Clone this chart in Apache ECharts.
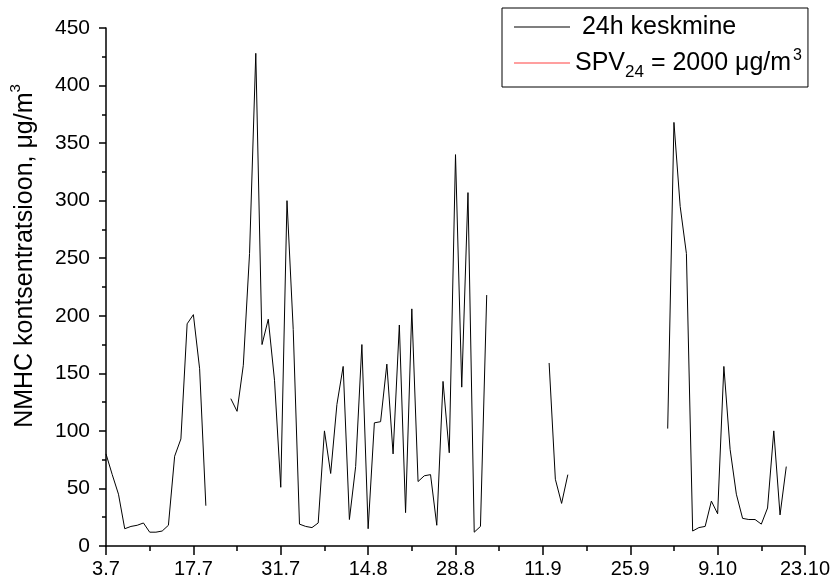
<!DOCTYPE html>
<html>
<head>
<meta charset="utf-8">
<script src="https://cdn.jsdelivr.net/npm/echarts@6/dist/echarts.min.js"></script>
<style>
  html, body { margin: 0; padding: 0; background: #fff; }
  #chart { width: 834px; height: 588px; }
</style>
</head>
<body>
<div id="chart"></div>
<script>
// x-axis labels, one every 14 days starting 3.7
const tickLabels = ['3.7', '17.7', '31.7', '14.8', '28.8', '11.9', '25.9', '9.10', '23.10']
// 24h mean NMHC, one value per day from 3.7 (null = no data)
const dailyMean = [
  80, 62, 45, 15, 17, 18, 20, 12, 12, 13,
  18, 78, 93, 193, 201, 154, 35, null, null, null,
  128, 117, 157, 254, 428, 175, 197, 144, 51, 300,
  188, 19, 17, 16, 20, 100, 63, 123, 156, 23,
  69, 175, 15, 107, 108, 158, 80, 192, 29, 206,
  56, 61, 62, 18, 143, 81, 340, 138, 307, 12,
  17, 218, null, null, null, null, null, null, null, null,
  null, 159, 58, 37, 62, null, null, null, null, null,
  null, null, null, null, null, null, null, null, null, null,
  102, 368, 295, 254, 13, 16, 17, 39, 28, 156,
  84, 45, 24, 23, 23, 19, 33, 100, 27, 69
]
// SPV24 limit, ug/m3
const limitValue = 2000
const lastDay = (tickLabels.length - 1) * 14

const chart = echarts.init(document.getElementById('chart'), null, { renderer: 'canvas' })

const font = 'Liberation Sans, Arial, sans-serif'

chart.setOption({
  animation: false,
  textStyle: { fontFamily: font, color: '#000' },
  grid: { left: 105, right: 29, top: 28, bottom: 42 },
  legend: {
    orient: 'vertical',
    left: 502,
    top: 8,
    padding: [1, 6, 6, 12],
    borderColor: '#000',
    borderWidth: 1,
    icon: 'rect',
    itemWidth: 56,
    itemHeight: 1,
    itemGap: 0,
    textStyle: {
      fontFamily: font,
      fontSize: 25,
      lineHeight: 36,
      color: '#000',
      rich: {
        sub: { fontSize: 17, verticalAlign: 'bottom' },
        sup: { fontSize: 16, verticalAlign: 'top', padding: [3, 0, 0, 2] }
      }
    },
    formatter: name => name === 'limit' ? 'SPV{sub|24} = 2000 μg/m{sup|3}' : ' 24h keskmine',
    data: ['mean', 'limit']
  },
  xAxis: {
    type: 'value',
    min: 0,
    max: lastDay,
    interval: 14,
    axisLine: { lineStyle: { color: '#000', width: 1.5 } },
    axisTick: { show: true, length: 9, lineStyle: { color: '#000', width: 1.5 } },
    minorTick: { show: true, splitNumber: 2, length: 5, lineStyle: { color: '#000', width: 1.5 } },
    axisLabel: {
      margin: 13,
      fontSize: 20,
      color: '#000',
      formatter: v => tickLabels[Math.round(v / 14)]
    },
    splitLine: { show: false }
  },
  yAxis: {
    type: 'value',
    min: 0,
    max: 450,
    interval: 50,
    name: 'NMHC kontsentratsioon, μg/m{sup|3}',
    nameLocation: 'middle',
    nameGap: 64,
    nameTextStyle: {
      fontFamily: font,
      fontSize: 25,
      lineHeight: 34,
      color: '#000',
      padding: [0, 0, 0, 62],
      rich: {
        sup: { fontSize: 15, verticalAlign: 'top' }
      }
    },
    axisLine: { show: true, lineStyle: { color: '#000', width: 1.5 } },
    axisTick: { show: true, length: 7, lineStyle: { color: '#000', width: 1.5 } },
    minorTick: { show: true, splitNumber: 2, length: 4, lineStyle: { color: '#000', width: 1.5 } },
    axisLabel: { margin: 16, fontSize: 21, color: '#000' },
    splitLine: { show: false }
  },
  series: [
    {
      name: 'mean',
      type: 'line',
      showSymbol: false,
      symbol: 'none',
      connectNulls: false,
      color: '#000',
      lineStyle: { color: '#000', width: 1 },
      data: dailyMean.map((v, i) => [i, v === null ? '-' : v])
    },
    {
      name: 'limit',
      type: 'line',
      showSymbol: false,
      symbol: 'none',
      color: '#ff4040',
      lineStyle: { color: '#ff4040', width: 1 },
      data: [[0, limitValue], [lastDay, limitValue]]
    }
  ]
})
</script>
</body>
</html>
